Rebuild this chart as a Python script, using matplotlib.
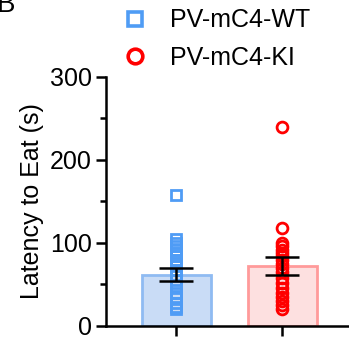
import matplotlib.pyplot as plt
import numpy as np

plt.rcParams['font.family'] = ['Liberation Sans', 'DejaVu Sans']

groups = ["PV-mC4-WT", "PV-mC4-KI"]
means = [62, 72]
sems = [8, 11]
wt_pts = [158, 105, 100, 96, 92, 88, 84, 80, 76, 72, 68, 62, 56, 48, 40, 34, 28, 23, 20]
ki_pts = [240, 118, 100, 96, 92, 88, 84, 80, 75, 70, 65, 58, 52, 46, 40, 35, 30, 25, 20]

fill_c = ["#c9dcf6", "#fde0e0"]
edge_c = ["#8fbbf2", "#ff9a9a"]
pt_c = ["#4f9cf5", "#ff0000"]
marks = ["s", "o"]

fig = plt.figure(figsize=(3.49, 3.43), dpi=100)
ax = fig.add_axes([0.304, 0.0496, 0.696, 0.726])

x = np.arange(len(groups))
ax.bar(x, means, width=0.65, color=fill_c, edgecolor=edge_c, linewidth=2, zorder=1)
for i, pts in enumerate([wt_pts, ki_pts]):
    ax.plot([x[i]] * len(pts), pts, linestyle="none", marker=marks[i], markersize=7.8,
            markerfacecolor="none", markeredgecolor=pt_c[i], markeredgewidth=2,
            label=groups[i], zorder=2)
ax.errorbar(x, means, yerr=sems, fmt="none", ecolor="black", elinewidth=1.8,
            capsize=12.5, capthick=1.8, zorder=3)

ax.set_xlim(-0.66, 1.63)
ax.set_ylim(0, 300)
ax.set_yticks([0, 100, 200, 300])
ax.set_yticks([50, 150, 250], minor=True)
ax.set_xticks(x)
ax.set_xticklabels([])
ax.tick_params(axis="both", which="major", length=7, width=1.8, labelsize=18, direction="out")
ax.tick_params(axis="y", which="minor", length=4, width=1.8)
for s in ["top", "right"]:
    ax.spines[s].set_visible(False)
for s in ["left", "bottom"]:
    ax.spines[s].set_linewidth(1.8)
ax.set_ylabel("Latency to Eat (s)", fontsize=18, labelpad=4)

leg = fig.legend(loc="upper left", bbox_to_anchor=(0.322, 1.005), frameon=False, fontsize=18,
                 handlelength=1.0, handletextpad=0.9, labelspacing=0.55, borderaxespad=0,
                 markerscale=1.35)
for h in leg.legend_handles:
    h.set_markeredgewidth(2.6)
fig.text(-0.01, 0.985, "B", fontsize=20, va="center")

fig.savefig("out.png", dpi=100)
